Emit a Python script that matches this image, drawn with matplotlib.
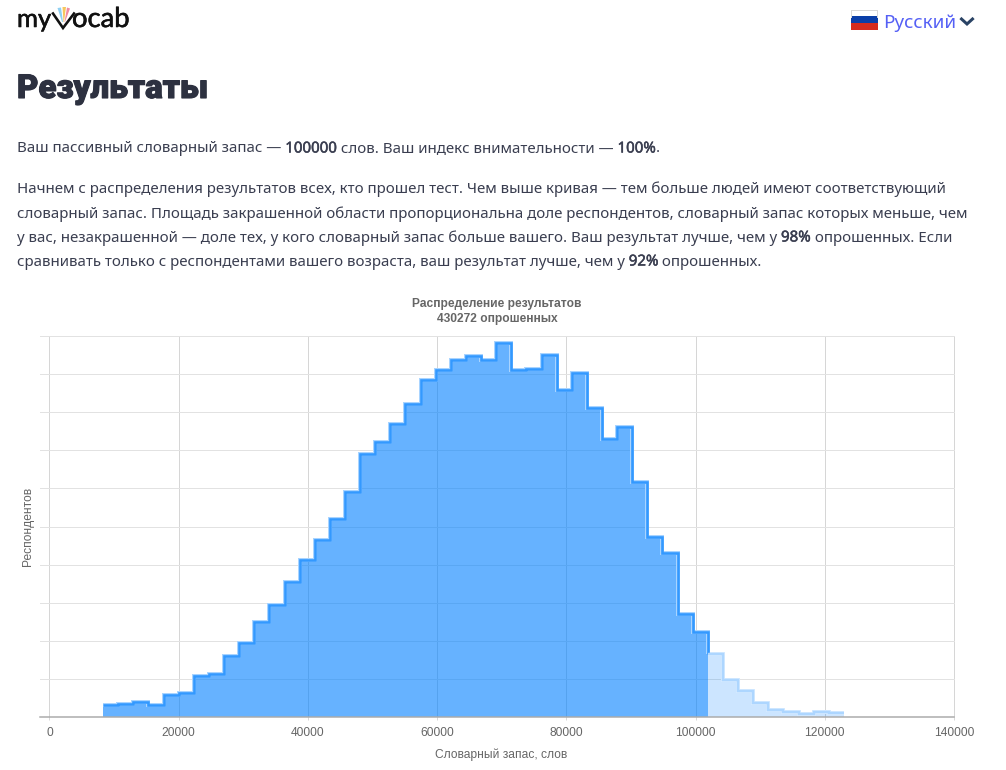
import numpy as np
import matplotlib
matplotlib.use("Agg")
import matplotlib.pyplot as plt
from matplotlib.patches import Polygon, Rectangle
import matplotlib.patheffects as pe
from matplotlib.font_manager import FontProperties

# --- data ---
bin_start = 8300
bin_width = 2340
split_index = 40
respondents = [614, 667, 803, 646, 1171, 1276, 2137, 2258, 3218, 3869,
               4972, 5864, 7072, 8258, 9308, 10379, 11828, 13792, 14453, 15367,
               16448, 17677, 18202, 18743, 18953, 18727, 19619, 18202, 18286, 19005,
               17183, 18076, 16207, 14595, 15241, 12353, 9466, 8584, 5423, 4478,
               3292, 1943, 1365, 751, 352, 278, 173, 247, 194]
x_ticks = [0, 20000, 40000, 60000, 80000, 100000, 120000, 140000]
y_ticks = list(range(0, 20001, 2000))
chart_title = "Распределение результатов\n430272 опрошенных"
x_label = "Словарный запас, слов"
y_label = "Респондентов"
heading = "Результаты"
language = "Русский"
para1 = [("Ваш пассивный словарный запас — ", False), ("100000", True),
         (" слов. Ваш индекс внимательности — ", False), ("100%", True), (".", False)]
para2 = [
    [("Начнем с распределения результатов всех, кто прошел тест. Чем выше кривая — тем больше людей имеют соответствующий", False)],
    [("словарный запас. Площадь закрашенной области пропорциональна доле респондентов, словарный запас которых меньше, чем", False)],
    [("у вас, незакрашенной — доле тех, у кого словарный запас больше вашего. Ваш результат лучше, чем у ", False), ("98%", True), (" опрошенных. Если", False)],
    [("сравнивать только с респондентами вашего возраста, ваш результат лучше, чем у ", False), ("92%", True), (" опрошенных.", False)],
]

W, H = 1006, 770
fig = plt.figure(figsize=(W / 100, H / 100), dpi=100, facecolor="white")
PX = 0.72

# --- chart ---
ax = fig.add_axes([40 / W, (H - 717) / H, 914 / W, 381 / H])
ax.set_xlim(-1470, 140000)
ax.set_ylim(0, 20000)
ax.set_axisbelow(True)
for s in ("top", "left", "right"):
    ax.spines[s].set_visible(False)
ax.spines["bottom"].set_color("#ababab")
ax.spines["bottom"].set_linewidth(1.5 * PX)
ax.set_xticks(x_ticks)
ax.set_yticks(y_ticks)
ax.set_yticklabels([])
ax.tick_params(axis="y", length=0)
ax.tick_params(axis="x", length=3 * PX, width=PX, color="#d9d9d9", pad=7 * PX,
               labelsize=12 * PX, labelcolor="#666666")
for lab in ax.get_xticklabels():
    lab.set_family("Liberation Sans")
for x in x_ticks:
    ax.axvline(x, color="#d6d6d6", lw=PX, zorder=1, clip_on=False)
for y in y_ticks[1:]:
    ax.axhline(y, color="#e2e2e2", lw=PX, zorder=1, clip_on=False)

vals = np.array(respondents, dtype=float)
edges = bin_start + bin_width * np.arange(len(vals) + 1)
k = split_index
ax.stairs(vals[:k], edges[:k + 1], baseline=0, fill=True, color="#0080ff", alpha=0.6, lw=0, zorder=2)
ax.stairs(vals[k:], edges[k:], baseline=0, fill=True, color="#0080ff", alpha=0.2, lw=0, zorder=2)

dx = np.repeat(edges[:k + 1], 2)[1:]
dy = np.concatenate([np.repeat(vals[:k], 2), vals[k:k + 1]])
lx = np.repeat(edges[k:], 2)[1:-1]
ly = np.repeat(vals[k:], 2)
ax.plot(dx, dy, color="#a9d4ff", lw=4.0 * PX, solid_joinstyle="miter", solid_capstyle="butt", zorder=3)
ax.plot(dx, dy, color="#3399ff", lw=2.6 * PX, solid_joinstyle="miter", solid_capstyle="butt", zorder=4)
ax.plot(lx, ly, color="#d6eaff", lw=4.0 * PX, solid_joinstyle="miter", solid_capstyle="butt", zorder=3)
ax.plot(lx, ly, color="#add6ff", lw=2.4 * PX, solid_joinstyle="miter", solid_capstyle="butt", zorder=4)

# --- page overlay in pixel coordinates ---
ov = fig.add_axes([0, 0, 1, 1], zorder=5)
ov.set_xlim(0, W)
ov.set_ylim(H, 0)
ov.axis("off")

ov.text(497, 311.5, chart_title, ha="center", va="center", family="Liberation Sans",
        fontweight="bold", fontsize=12 * PX, color="#666666", linespacing=1.25)
ov.text(501, 755, x_label, ha="center", va="center", family="Liberation Sans",
        fontsize=12 * PX, color="#666666")
ov.text(28, 526, y_label, ha="center", va="center", rotation=90, family="Liberation Sans",
        fontsize=12 * PX, color="#666666")

renderer = fig.canvas.get_renderer()
BODY = "Noto Sans"
BODY_SIZE = 15.05 * PX
BODY_COLOR = "#3a3e50"


def run_width(s):
    fp = FontProperties(family=BODY, size=BODY_SIZE)
    a = renderer.get_text_width_height_descent(s + "|", fp, False)[0]
    b = renderer.get_text_width_height_descent("|", fp, False)[0]
    return a - b


def draw_runs(x, y, runs):
    for s, bold in runs:
        t = ov.text(x, y, s, va="baseline", ha="left", family=BODY, fontsize=BODY_SIZE,
                    color=BODY_COLOR)
        if bold:
            t.set_path_effects([pe.withStroke(linewidth=0.35, foreground=BODY_COLOR)])
        x += run_width(s)


draw_runs(17, 152.5, para1)
for yy, line in zip([193, 218.5, 241.5, 265.5], para2):
    draw_runs(17, yy, line)

ov.text(17, 98, heading, va="baseline", ha="left", family="Roboto", fontweight=900,
        fontsize=33 * PX, color="#2d3140",
        path_effects=[pe.withStroke(linewidth=0.8, foreground="#2d3140")])

# logo
logo_fx = [pe.withStroke(linewidth=0.4, foreground="#111111")]
ov.text(17, 27, "my", va="baseline", ha="left", family="Lato", fontsize=25.5 * PX, color="#111111", path_effects=logo_fx)
ov.text(72, 27, "ocab", va="baseline", ha="left", family="Lato", fontsize=27.4 * PX, color="#111111", path_effects=logo_fx)
ov.plot([53, 63, 74], [13.5, 28, 13.5], color="#111111", lw=2.6 * PX, solid_joinstyle="miter")
ov.add_patch(Polygon([[57.5, 8], [61, 7.5], [63, 22], [62, 22]], fc="#8fd0f2", ec="none"))
ov.add_patch(Polygon([[62.5, 7], [66, 7], [64, 22], [63.5, 22]], fc="#f6c75e", ec="none"))
ov.add_patch(Polygon([[67, 7.5], [70, 8.5], [65, 22], [64.5, 22]], fc="#f18ca2", ec="none"))

# flag + language
ov.add_patch(Rectangle((851, 9), 27, 7.3, fc="white", ec="none"))
ov.add_patch(Rectangle((851, 16.3), 27, 7, fc="#0a3fa8", ec="none"))
ov.add_patch(Rectangle((851, 23.3), 27, 7, fc="#d52b1e", ec="none"))
ov.plot([851.5, 851.5, 877.5, 877.5], [17, 9.5, 9.5, 17], color="#d8d8d8", lw=PX)
ov.text(883, 28, language, va="baseline", ha="left", family="Noto Sans", fontsize=18.8 * PX, color="#5560f5")
ov.plot([961.5, 967, 972.5], [19, 24, 19], color="#2a4365", lw=3 * PX, solid_joinstyle="miter")

fig.savefig("out.png", dpi=100, facecolor="white")
